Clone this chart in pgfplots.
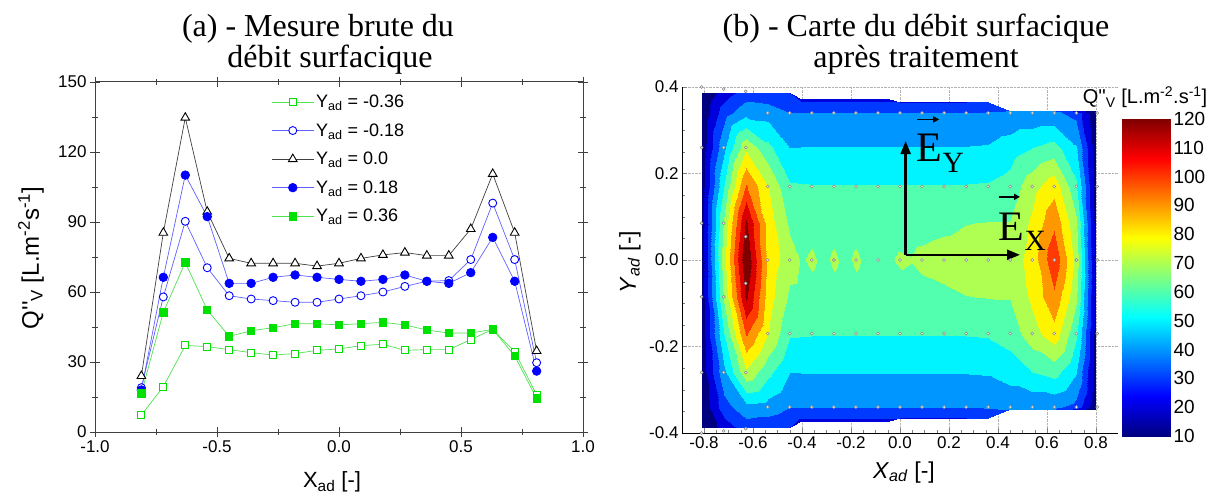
\documentclass[border=0pt]{standalone}
\usepackage{fontspec}
\setmainfont{Liberation Sans}
\newfontfamily\timesfont{Liberation Serif}
\newfontfamily\plainsans{Liberation Sans}
\usepackage{pgfplots}
\usepackage{pgfplotstable}
\pgfplotsset{compat=1.18}
\usetikzlibrary{arrows.meta}
\pgfplotsset{/pgf/number format/assume math mode=true}
\definecolor{gmark}{RGB}{0,225,0}
\definecolor{gline}{RGB}{80,225,80}
\definecolor{bline}{RGB}{95,95,255}
\pgfplotsset{colormap={bands}{rgb255(0cm)=(0,0,128) rgb255(1cm)=(0,0,220) rgb255(2cm)=(0,57,255) rgb255(3cm)=(0,150,255) rgb255(4cm)=(0,244,255) rgb255(5cm)=(81,255,174) rgb255(6cm)=(174,255,81) rgb255(7cm)=(255,244,0) rgb255(8cm)=(255,151,0) rgb255(9cm)=(255,58,0) rgb255(10cm)=(218,0,0) rgb255(11cm)=(128,0,0) rgb255(12cm)=(128,0,0)}}

\pgfplotstableread{
x m36 m18 z0 p18 p36
-0.81 7.3 19.0 24.0 18.0 16.6
-0.72 19.4 57.9 85.4 66.3 51.3
-0.63 37.1 90.3 134.7 110.1 72.7
-0.54 36.6 70.4 94.4 92.3 52.3
-0.45 35.3 58.4 74.4 63.7 41.0
-0.36 34.0 57.0 72.3 63.7 43.4
-0.27 33.0 56.3 72.3 66.3 44.7
-0.18 33.6 55.6 72.3 67.3 46.4
-0.09 35.0 55.6 71.1 66.3 46.4
0.00 35.6 57.0 72.3 65.4 45.9
0.09 37.0 58.4 74.4 64.6 46.4
0.18 37.6 60.0 75.9 65.4 47.0
0.27 35.0 62.4 76.9 67.3 45.9
0.36 35.3 64.6 75.6 64.6 43.7
0.45 35.3 64.9 75.6 63.7 42.4
0.54 39.6 73.9 87.0 68.3 42.4
0.63 44.0 98.1 110.6 83.4 44.0
0.72 34.4 73.9 85.4 64.6 32.6
0.81 15.9 29.7 34.7 26.1 14.4
}\dataA

\pgfplotstableread[row sep=\\]{
x y v\\
-0.81 -0.387 10\\ -0.72 -0.387 25\\ -0.63 -0.387 35\\ -0.54 -0.387 33\\ -0.45 -0.387 30\\ -0.405 -0.372 28\\ -0.36 -0.372 28\\ -0.315 -0.372 28\\ -0.27 -0.372 28\\ -0.225 -0.372 28\\ -0.18 -0.372 28\\ -0.135 -0.372 28\\ -0.09 -0.372 28\\ -0.045 -0.372 28\\ 0 -0.366 30\\ 0.045 -0.366 30\\ 0.09 -0.366 30\\ 0.18 -0.366 30\\ 0.27 -0.366 30\\ 0.36 -0.366 31\\ 0.45 -0.345 41\\ 0.54 -0.345 41\\ 0.63 -0.345 41\\ 0.72 -0.345 28\\ 0.80 -0.345 10\\
-0.81 -0.34 12\\ -0.72 -0.34 36\\ -0.63 -0.34 47\\ -0.54 -0.34 46\\ -0.45 -0.34 40\\ -0.405 -0.34 40.3\\ -0.36 -0.34 40.5\\ -0.315 -0.34 40.5\\ -0.27 -0.34 40.5\\ -0.225 -0.34 40.5\\ -0.18 -0.34 40.5\\ -0.135 -0.34 40.5\\ -0.09 -0.34 40.5\\ -0.045 -0.34 40.5\\ 0 -0.34 40.5\\ 0.045 -0.34 40.5\\ 0.09 -0.34 40.5\\ 0.18 -0.34 40.5\\ 0.27 -0.34 40.5\\ 0.36 -0.34 41\\ 0.45 -0.34 42\\ 0.54 -0.34 42\\ 0.63 -0.34 42\\ 0.72 -0.34 37\\ 0.80 -0.34 12\\
-0.81 -0.26 14\\ -0.72 -0.26 48\\ -0.63 -0.26 78\\ -0.54 -0.26 63\\ -0.45 -0.26 50\\ -0.405 -0.26 50.3\\ -0.36 -0.26 50.5\\ -0.315 -0.26 50.5\\ -0.27 -0.26 50.5\\ -0.225 -0.26 50.5\\ -0.18 -0.26 50.5\\ -0.135 -0.26 50.5\\ -0.09 -0.26 50.5\\ -0.045 -0.26 50.5\\ 0 -0.26 50.5\\ 0.045 -0.26 50.5\\ 0.09 -0.26 50.5\\ 0.18 -0.26 50.5\\ 0.27 -0.26 50.5\\ 0.36 -0.26 51\\ 0.45 -0.26 55\\ 0.54 -0.26 60\\ 0.63 -0.26 64\\ 0.72 -0.26 51\\ 0.80 -0.26 14\\
-0.81 -0.17 15\\ -0.72 -0.17 60\\ -0.63 -0.17 101\\ -0.54 -0.17 80\\ -0.45 -0.17 61\\ -0.405 -0.17 60.8\\ -0.36 -0.17 60.5\\ -0.315 -0.17 60.5\\ -0.27 -0.17 60.5\\ -0.225 -0.17 60.5\\ -0.18 -0.17 60.5\\ -0.135 -0.17 60.5\\ -0.09 -0.17 60.5\\ -0.045 -0.17 60.5\\ 0 -0.17 60.5\\ 0.045 -0.17 60.5\\ 0.09 -0.17 60.5\\ 0.18 -0.17 60.5\\ 0.27 -0.17 60.5\\ 0.36 -0.17 61\\ 0.45 -0.17 64\\ 0.54 -0.17 76\\ 0.63 -0.17 86\\ 0.72 -0.17 62\\ 0.80 -0.17 15\\
-0.81 -0.085 15\\ -0.72 -0.085 72\\ -0.63 -0.085 122\\ -0.54 -0.085 85\\ -0.45 -0.085 68\\ -0.405 -0.085 67.5\\ -0.36 -0.085 68.3\\ -0.315 -0.085 67.5\\ -0.27 -0.085 68.3\\ -0.225 -0.085 67.5\\ -0.18 -0.085 68.3\\ -0.135 -0.085 67.5\\ -0.09 -0.085 67\\ -0.045 -0.085 66.5\\ 0 -0.085 66.7\\ 0.045 -0.085 67\\ 0.09 -0.085 67\\ 0.18 -0.085 68.1\\ 0.27 -0.085 69.8\\ 0.36 -0.085 70.3\\ 0.45 -0.085 70.5\\ 0.54 -0.085 82\\ 0.63 -0.085 98\\ 0.72 -0.085 72\\ 0.80 -0.085 15\\
-0.81 0 15\\ -0.72 0 77\\ -0.63 0 135\\ -0.54 0 87\\ -0.45 0 74\\ -0.405 0 69.5\\ -0.36 0 70.8\\ -0.315 0 69\\ -0.27 0 70.8\\ -0.225 0 69\\ -0.18 0 70.8\\ -0.135 0 69\\ -0.09 0 69.5\\ -0.045 0 69.3\\ 0 0 71\\ 0.045 0 70.3\\ 0.09 0 72\\ 0.18 0 73.5\\ 0.27 0 74\\ 0.36 0 74\\ 0.45 0 74.5\\ 0.54 0 84\\ 0.63 0 108\\ 0.72 0 77\\ 0.80 0 15\\
-0.81 0.085 15\\ -0.72 0.085 72\\ -0.63 0.085 122\\ -0.54 0.085 85\\ -0.45 0.085 68\\ -0.405 0.085 67.5\\ -0.36 0.085 68.3\\ -0.315 0.085 67.5\\ -0.27 0.085 68.3\\ -0.225 0.085 67.5\\ -0.18 0.085 68.3\\ -0.135 0.085 67.5\\ -0.09 0.085 67\\ -0.045 0.085 66.5\\ 0 0.085 66.7\\ 0.045 0.085 67\\ 0.09 0.085 67\\ 0.18 0.085 68.1\\ 0.27 0.085 69.8\\ 0.36 0.085 70.3\\ 0.45 0.085 70.5\\ 0.54 0.085 82\\ 0.63 0.085 98\\ 0.72 0.085 72\\ 0.80 0.085 15\\
-0.81 0.17 15\\ -0.72 0.17 60\\ -0.63 0.17 101\\ -0.54 0.17 80\\ -0.45 0.17 61\\ -0.405 0.17 60.8\\ -0.36 0.17 60.5\\ -0.315 0.17 60.5\\ -0.27 0.17 60.5\\ -0.225 0.17 60.5\\ -0.18 0.17 60.5\\ -0.135 0.17 60.5\\ -0.09 0.17 60.5\\ -0.045 0.17 60.5\\ 0 0.17 60.5\\ 0.045 0.17 60.5\\ 0.09 0.17 60.5\\ 0.18 0.17 60.5\\ 0.27 0.17 60.5\\ 0.36 0.17 61\\ 0.45 0.17 64\\ 0.54 0.17 76\\ 0.63 0.17 86\\ 0.72 0.17 62\\ 0.80 0.17 15\\
-0.81 0.26 14\\ -0.72 0.26 48\\ -0.63 0.26 78\\ -0.54 0.26 63\\ -0.45 0.26 50\\ -0.405 0.26 50.3\\ -0.36 0.26 50.5\\ -0.315 0.26 50.5\\ -0.27 0.26 50.5\\ -0.225 0.26 50.5\\ -0.18 0.26 50.5\\ -0.135 0.26 50.5\\ -0.09 0.26 50.5\\ -0.045 0.26 50.5\\ 0 0.26 50.5\\ 0.045 0.26 50.5\\ 0.09 0.26 50.5\\ 0.18 0.26 50.5\\ 0.27 0.26 50.5\\ 0.36 0.26 51\\ 0.45 0.26 55\\ 0.54 0.26 60\\ 0.63 0.26 64\\ 0.72 0.26 51\\ 0.80 0.26 14\\
-0.81 0.34 12\\ -0.72 0.34 36\\ -0.63 0.34 47\\ -0.54 0.34 46\\ -0.45 0.34 40\\ -0.405 0.34 40.3\\ -0.36 0.34 40.5\\ -0.315 0.34 40.5\\ -0.27 0.34 40.5\\ -0.225 0.34 40.5\\ -0.18 0.34 40.5\\ -0.135 0.34 40.5\\ -0.09 0.34 40.5\\ -0.045 0.34 40.5\\ 0 0.34 40.5\\ 0.045 0.34 40.5\\ 0.09 0.34 40.5\\ 0.18 0.34 40.5\\ 0.27 0.34 40.5\\ 0.36 0.34 41\\ 0.45 0.34 42\\ 0.54 0.34 42\\ 0.63 0.34 42\\ 0.72 0.34 37\\ 0.80 0.34 12\\
-0.81 0.387 10\\ -0.72 0.387 25\\ -0.63 0.387 35\\ -0.54 0.387 33\\ -0.45 0.387 30\\ -0.405 0.372 28\\ -0.36 0.372 28\\ -0.315 0.372 28\\ -0.27 0.372 28\\ -0.225 0.372 28\\ -0.18 0.372 28\\ -0.135 0.372 28\\ -0.09 0.372 28\\ -0.045 0.372 28\\ 0 0.366 30\\ 0.045 0.366 30\\ 0.09 0.366 30\\ 0.18 0.366 30\\ 0.27 0.366 30\\ 0.36 0.366 31\\ 0.45 0.345 41\\ 0.54 0.345 41\\ 0.63 0.345 41\\ 0.72 0.345 28\\ 0.80 0.345 10\\
}\mapdata

\pgfplotstableread[row sep=\\]{
x y\\
-0.81 0.40\\ -0.81 0.26\\ -0.81 0.085\\ -0.81 -0.085\\ -0.81 -0.26\\ -0.81 -0.40\\
-0.72 0.395\\ -0.72 0.26\\ -0.72 0.085\\ -0.72 -0.085\\ -0.72 -0.26\\ -0.72 -0.395\\
-0.63 0.39\\ -0.63 0.26\\ -0.63 0.054\\ -0.63 -0.054\\ -0.63 -0.26\\ -0.63 -0.39\\
-0.54 0.34\\ -0.54 0.17\\ -0.54 0\\ -0.54 -0.17\\ -0.54 -0.34\\
-0.45 0.34\\ -0.45 0.17\\ -0.45 0\\ -0.45 -0.17\\ -0.45 -0.34\\
-0.36 0.34\\ -0.36 0.17\\ -0.36 0\\ -0.36 -0.17\\ -0.36 -0.34\\
-0.27 0.34\\ -0.27 0.17\\ -0.27 0\\ -0.27 -0.17\\ -0.27 -0.34\\
-0.18 0.34\\ -0.18 0.17\\ -0.18 0\\ -0.18 -0.17\\ -0.18 -0.34\\
-0.09 0.34\\ -0.09 0.17\\ -0.09 0\\ -0.09 -0.17\\ -0.09 -0.34\\
0 0.34\\ 0 0.17\\ 0 0\\ 0 -0.17\\ 0 -0.34\\
0.09 0.34\\ 0.09 0.17\\ 0.09 0\\ 0.09 -0.17\\ 0.09 -0.34\\
0.18 0.34\\ 0.18 0.17\\ 0.18 0\\ 0.18 -0.17\\ 0.18 -0.34\\
0.27 0.34\\ 0.27 0.17\\ 0.27 0\\ 0.27 -0.17\\ 0.27 -0.34\\
0.36 0.34\\ 0.36 0.17\\ 0.36 0\\ 0.36 -0.17\\ 0.36 -0.34\\
0.45 0.34\\ 0.45 0.17\\ 0.45 0\\ 0.45 -0.17\\ 0.45 -0.34\\
0.54 0.34\\ 0.54 0.17\\ 0.54 0\\ 0.54 -0.17\\ 0.54 -0.34\\
0.63 0.34\\ 0.63 0.17\\ 0.63 0\\ 0.63 -0.17\\ 0.63 -0.34\\
0.72 0.34\\ 0.72 0.17\\ 0.72 0\\ 0.72 -0.17\\ 0.72 -0.34\\
0.805 0.34\\ 0.805 0.17\\ 0.805 0\\ 0.805 -0.17\\ 0.805 -0.34\\
}\dots

\begin{document}
\begin{tikzpicture}
\path[use as bounding box] (0pt,0pt) rectangle (1216pt,496pt);

% ---------------- panel (a)
\begin{axis}[
  at={(95pt,64pt)}, anchor=south west, scale only axis,
  width=488pt, height=350pt,
  xmin=-1, xmax=1, ymin=0, ymax=150,
  xtick={-1,-0.5,0,0.5,1}, ytick={0,30,60,90,120,150},
  minor x tick num=1, minor y tick num=1,
  tick align=center, major tick length=10pt, minor tick length=6pt,
  axis line style={line width=1pt, black!75},
  tick style={line width=0.9pt, black!75},
  tick label style={font=\fontsize{17}{19}\selectfont},
  xticklabel style={/pgf/number format/fixed, /pgf/number format/fixed zerofill, /pgf/number format/precision=1},
  legend style={at={(0.355,0.975)}, anchor=north west, draw=none, fill=none,
    font=\fontsize{18}{20}\selectfont, row sep=10.5pt},
  legend cell align=left,
  legend image code/.code={\draw[mark repeat=2, mark phase=2, #1] plot coordinates {(0pt,0pt) (21pt,0pt) (42pt,0pt)};},
]
\addplot[draw=gline, line width=0.7pt, mark=square*, mark size=3.5pt, mark options={draw=gmark, fill=white, line width=0.9pt}] table[x=x, y=m36] {\dataA};
\addlegendentry{Y\textsubscript{ad} = -0.36}
\addplot[draw=bline, line width=0.7pt, mark=*, mark size=4pt, mark options={draw=blue, fill=white, line width=0.9pt}] table[x=x, y=m18] {\dataA};
\addlegendentry{Y\textsubscript{ad} = -0.18}
\addplot[draw=black!75, line width=0.7pt, mark=triangle*, mark size=5pt, mark options={draw=black, fill=white, line width=0.9pt}] table[x=x, y=z0] {\dataA};
\addlegendentry{Y\textsubscript{ad} = 0.0}
\addplot[draw=bline, line width=0.7pt, mark=*, mark size=4.3pt, mark options={draw=blue, fill=blue}] table[x=x, y=p18] {\dataA};
\addlegendentry{Y\textsubscript{ad} = 0.18}
\addplot[draw=gline, line width=0.7pt, mark=square*, mark size=3.6pt, mark options={draw=gmark, fill=gmark}] table[x=x, y=p36] {\dataA};
\addlegendentry{Y\textsubscript{ad} = 0.36}
\end{axis}

% ---------------- panel (b)
\begin{axis}[
  at={(682pt,63pt)}, anchor=south west, scale only axis,
  width=436pt, height=346pt,
  xmin=-0.89, xmax=0.89, ymin=-0.4, ymax=0.4,
  axis x line*=bottom, axis y line*=left, axis line style={-, line width=0.8pt},
  xtick={-0.8,-0.6,-0.4,-0.2,0,0.2,0.4,0.6,0.8}, ytick={-0.4,-0.2,0,0.2,0.4},
  minor x tick num=3, minor y tick num=3,
  tick align=inside, major tick length=5pt, minor tick length=3pt,
  grid=major, major grid style={densely dotted, gray!60, line width=0.6pt},
  tick label style={font=\fontsize{17}{19}\selectfont},
  xticklabel style={/pgf/number format/fixed, /pgf/number format/fixed zerofill, /pgf/number format/precision=1},
  yticklabel style={/pgf/number format/fixed, /pgf/number format/fixed zerofill, /pgf/number format/precision=1},
  colormap name=bands, colormap access=piecewise constant,
  point meta min=10, point meta max=130,
]
\addplot[surf, shader=interp, mesh/cols=25, point meta=explicit] table[x=x, y=y, meta=v] {\mapdata};
\addplot[only marks, mark=*, mark size=1.5pt, mark options={fill=gray!10, draw=gray!90, line width=0.55pt}] table[x=x, y=y] {\dots};
\draw[line width=2.4pt, -{Triangle[length=13pt,width=10pt]}] (axis cs:0.023,0.012) -- (axis cs:0.023,0.275);
\draw[line width=2.4pt, -{Triangle[length=13pt,width=10pt]}] (axis cs:0.023,0.012) -- (axis cs:0.49,0.012);
\draw[line width=1.6pt, -{Triangle[length=6pt,width=6pt]}] (axis cs:0.071,0.325) -- (axis cs:0.16,0.325);
\draw[line width=1.6pt, -{Triangle[length=6pt,width=6pt]}] (axis cs:0.404,0.146) -- (axis cs:0.49,0.146);
\node[anchor=base west, inner sep=0pt, font=\timesfont\fontsize{42}{42}\selectfont] at (axis cs:0.068,0.227) {E\textsubscript{Y}};
\node[anchor=base west, inner sep=0pt, font=\timesfont\fontsize{42}{42}\selectfont] at (axis cs:0.403,0.046) {E\textsubscript{X}};
\end{axis}

% ---------------- colour bar
\begin{axis}[
  at={(1122pt,60pt)}, anchor=south west, scale only axis,
  width=48pt, height=317pt,
  xmin=0, xmax=1, ymin=10, ymax=120,
  xtick=\empty, ytick={10,20,...,120}, yticklabel pos=right,
  axis line style={draw=none}, major tick length=0pt,
  tick label style={font=\fontsize{19}{21}\selectfont},
  colormap/jet, point meta min=10, point meta max=120,
]
\addplot[surf, shader=interp, mesh/cols=2, point meta=y] coordinates {(0,10) (1,10) (0,120) (1,120)};
\end{axis}

% ---------------- titles and labels
\node[anchor=base, font=\timesfont\fontsize{32}{34}\selectfont] at (318pt,459pt) {(a) - Mesure brute du};
\node[anchor=base, font=\timesfont\fontsize{32}{34}\selectfont] at (330pt,428pt) {débit surfacique};
\node[anchor=base, font=\timesfont\fontsize{32}{34}\selectfont] at (916pt,459pt) {(b) - Carte du débit surfacique};
\node[anchor=base, font=\timesfont\fontsize{32}{34}\selectfont] at (916pt,428pt) {après traitement};

\node[rotate=90, font=\fontsize{24}{26}\selectfont] at (31pt,238pt) {{\plainsans Q''}\textsubscript{V} [L.m\textsuperscript{-2}s\textsuperscript{-1}]};
\node[anchor=base, font=\fontsize{22}{24}\selectfont] at (332pt,9pt) {X\textsubscript{ad} [-]};
\node[rotate=90, font=\fontsize{23}{25}\selectfont] at (630pt,234pt) {\textit{Y}\textsubscript{\textit{ad}} [-]};
\node[anchor=base, font=\fontsize{23}{25}\selectfont] at (904pt,18pt) {\textit{X}\textsubscript{\textit{ad}} [-]};
\node[anchor=base, font=\fontsize{20}{22}\selectfont] at (1145pt,392pt) {{\plainsans Q''}\textsubscript{V} [L.m\textsuperscript{-2}.s\textsuperscript{-1}]};
\end{tikzpicture}
\end{document}
